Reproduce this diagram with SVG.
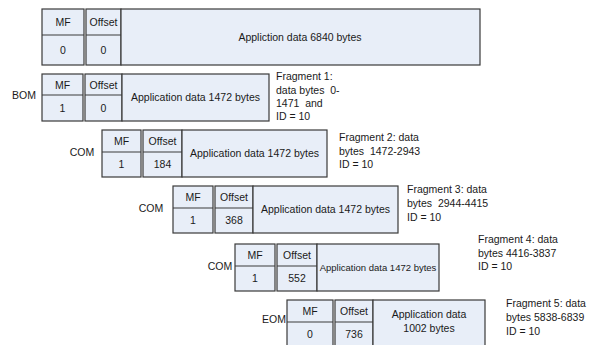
<svg xmlns="http://www.w3.org/2000/svg" width="589" height="345" viewBox="0 0 589 345">
<style>
.c{fill:#e8eef8;stroke:#3a3a3a;stroke-width:1.2}
.d{stroke:#3a3a3a;stroke-width:1.2}
.t{font-family:"Liberation Sans",Arial,sans-serif;font-size:10.5px;fill:#1a1a1a;text-anchor:middle}
.f{font-family:"Liberation Sans",Arial,sans-serif;font-size:10.5px;fill:#1a1a1a;white-space:pre}
</style>
<rect width="589" height="345" fill="#fff"/>
<g id="original">
<rect class="c" x="42" y="9" width="42" height="56"/>
<rect class="c" x="86" y="9" width="35" height="56"/>
<rect class="c" x="121" y="9" width="359" height="56"/>
<line class="d" x1="42" y1="35" x2="84" y2="35"/>
<line class="d" x1="86" y1="35" x2="121" y2="35"/>
<text class="t" x="63" y="26">MF</text>
<text class="t" x="103.5" y="26">Offset</text>
<text class="t" x="63" y="54">0</text>
<text class="t" x="103.5" y="54">0</text>
<text class="t" x="300" y="41">Appliction data 6840 bytes</text>
</g>
<g id="fragment1">
<text class="t" x="24" y="99">BOM</text>
<rect class="c" x="42" y="74" width="41" height="47"/>
<rect class="c" x="85" y="74" width="37" height="47"/>
<rect class="c" x="122" y="74" width="147" height="47"/>
<line class="d" x1="42" y1="95" x2="83" y2="95"/>
<line class="d" x1="85" y1="95" x2="122" y2="95"/>
<text class="t" x="62.5" y="88.5">MF</text>
<text class="t" x="103.5" y="88.5">Offset</text>
<text class="t" x="62.5" y="112">1</text>
<text class="t" x="103.5" y="112">0</text>
<text class="t" x="195.5" y="101">Application data 1472 bytes</text>
<text class="f" x="276" y="80" xml:space="preserve">Fragment 1:</text>
<text class="f" x="276" y="94" xml:space="preserve">data bytes  0-</text>
<text class="f" x="276" y="107" xml:space="preserve">1471  and</text>
<text class="f" x="276" y="120" xml:space="preserve">ID = 10</text>
</g>
<g id="fragment2">
<text class="t" x="82" y="156">COM</text>
<rect class="c" x="102" y="130" width="39" height="47"/>
<rect class="c" x="143" y="130" width="39" height="47"/>
<rect class="c" x="182" y="130" width="145" height="47"/>
<line class="d" x1="102" y1="152" x2="141" y2="152"/>
<line class="d" x1="143" y1="152" x2="182" y2="152"/>
<text class="t" x="121.5" y="145">MF</text>
<text class="t" x="162.5" y="145">Offset</text>
<text class="t" x="121.5" y="168">1</text>
<text class="t" x="162.5" y="168">184</text>
<text class="t" x="254.5" y="157">Application data 1472 bytes</text>
<text class="f" x="339" y="141" xml:space="preserve">Fragment 2: data</text>
<text class="f" x="339" y="154.5" xml:space="preserve">bytes  1472-2943</text>
<text class="f" x="339" y="168" xml:space="preserve">ID = 10</text>
</g>
<g id="fragment3">
<text class="t" x="151" y="212">COM</text>
<rect class="c" x="173" y="186" width="40" height="47"/>
<rect class="c" x="215" y="186" width="38" height="47"/>
<rect class="c" x="253" y="186" width="145" height="47"/>
<line class="d" x1="173" y1="208" x2="213" y2="208"/>
<line class="d" x1="215" y1="208" x2="253" y2="208"/>
<text class="t" x="193" y="201">MF</text>
<text class="t" x="234" y="201">Offset</text>
<text class="t" x="193" y="224">1</text>
<text class="t" x="234" y="224">368</text>
<text class="t" x="325.5" y="213">Application data 1472 bytes</text>
<text class="f" x="407" y="193" xml:space="preserve">Fragment 3: data</text>
<text class="f" x="407" y="207" xml:space="preserve">bytes  2944-4415</text>
<text class="f" x="407" y="221" xml:space="preserve">ID = 10</text>
</g>
<g id="fragment4">
<text class="t" x="220" y="270">COM</text>
<rect class="c" x="235" y="244" width="40" height="47"/>
<rect class="c" x="277" y="244" width="40" height="47"/>
<rect class="c" x="317" y="244" width="122" height="47"/>
<line class="d" x1="235" y1="266" x2="275" y2="266"/>
<line class="d" x1="277" y1="266" x2="317" y2="266"/>
<text class="t" x="378" y="271" style="font-size:9.5px">Application data 1472 bytes</text>
<text class="t" x="255" y="259">MF</text>
<text class="t" x="297" y="259">Offset</text>
<text class="t" x="255" y="282">1</text>
<text class="t" x="297" y="282">552</text>
<text class="f" x="478" y="243" xml:space="preserve">Fragment 4: data</text>
<text class="f" x="478" y="257" xml:space="preserve">bytes 4416-3837</text>
<text class="f" x="478" y="270" xml:space="preserve">ID = 10</text>
</g>
<g id="fragment5">
<text class="t" x="274" y="323">EOM</text>
<rect class="c" x="287" y="300" width="46" height="47"/>
<rect class="c" x="335" y="300" width="38" height="47"/>
<rect class="c" x="373" y="300" width="112" height="47"/>
<line class="d" x1="287" y1="322" x2="333" y2="322"/>
<line class="d" x1="335" y1="322" x2="373" y2="322"/>
<text class="t" x="310" y="315">MF</text>
<text class="t" x="354" y="315">Offset</text>
<text class="t" x="310" y="338">0</text>
<text class="t" x="354" y="338">736</text>
<text class="t" x="429" y="318">Application data</text>
<text class="t" x="429" y="332">1002 bytes</text>
<text class="f" x="506" y="307" xml:space="preserve">Fragment 5: data</text>
<text class="f" x="506" y="321" xml:space="preserve">bytes 5838-6839</text>
<text class="f" x="506" y="335" xml:space="preserve">ID = 10</text>
</g>
</svg>
